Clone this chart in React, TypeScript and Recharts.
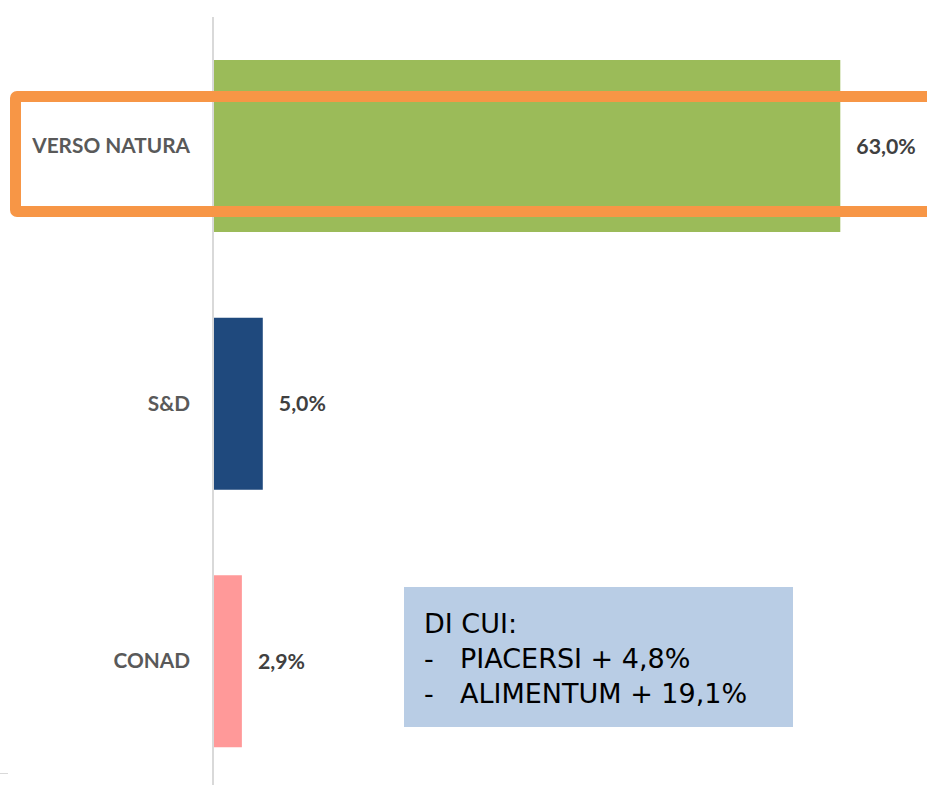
import React from "react";
import { BarChart, Bar, XAxis, YAxis, Cell, LabelList } from "recharts";

const categories = ["VERSO NATURA", "S&D", "CONAD"];
const values = [63.0, 5.0, 2.9];
const colors = ["#9BBB59", "#1F497D", "#FF9999"];
const noteTitle = "DI CUI:";
const noteItems = ["PIACERSI + 4,8%", "ALIMENTUM + 19,1%"];

const data = categories.map((c, i) => ({ name: c, value: values[i] }));

const fmt = (v: number) => v.toFixed(1).replace(".", ",") + "%";

const CatTick = (props: any) => {
  const { y, payload } = props;
  return (
    <text
      x={190}
      y={y}
      dy={7}
      textAnchor="end"
      fill="#595959"
      fontFamily="Lato"
      fontWeight={700}
      fontSize={20.8}
    >
      {payload.value}
    </text>
  );
};

export default function App() {
  return (
    <div style={{ position: "absolute", left: 0, top: 0, width: 927, height: 785, overflow: "hidden", background: "#fff" }}>
      <BarChart
        width={927}
        height={800}
        data={data}
        layout="vertical"
        margin={{ top: 17, right: 17, bottom: 10, left: 0 }}
      >
        <XAxis type="number" domain={[0, 70]} hide />
        <YAxis
          type="category"
          dataKey="name"
          width={213}
          axisLine={{ stroke: "#D9D9D9", strokeWidth: 2 }}
          tickLine={false}
          tick={<CatTick />}
        />
        <Bar dataKey="value" barSize={172} isAnimationActive={false}>
          {data.map((d, i) => (
            <Cell key={d.name} fill={colors[i]} />
          ))}
          <LabelList
            dataKey="value"
            position="right"
            offset={16}
            formatter={(v: any) => fmt(Number(v))}
            fill="#404040"
            fontFamily="Lato"
            fontWeight={700}
            fontSize={21.3}
          />
        </Bar>
      </BarChart>
      <div
        style={{
          position: "absolute",
          left: 10,
          top: 91,
          width: 940,
          height: 126,
          border: "11px solid #F79646",
          borderRadius: 7,
          boxSizing: "border-box",
        }}
      />
      <div style={{ position: "absolute", left: 0, top: 773, width: 8, height: 1, background: "#D9D9D9" }} />
      <div
        style={{
          position: "absolute",
          left: 404,
          top: 587,
          width: 389,
          height: 140,
          background: "#B9CDE5",
          fontFamily: "'DejaVu Sans'",
          fontSize: 27,
          color: "#000",
          lineHeight: "35px",
          boxSizing: "border-box",
          paddingTop: 19,
          paddingLeft: 20,
        }}
      >
        <div>{noteTitle}</div>
        {noteItems.map((t) => (
          <div key={t}>
            <span style={{ display: "inline-block", width: 36 }}>-</span>
            {t}
          </div>
        ))}
      </div>
    </div>
  );
}
